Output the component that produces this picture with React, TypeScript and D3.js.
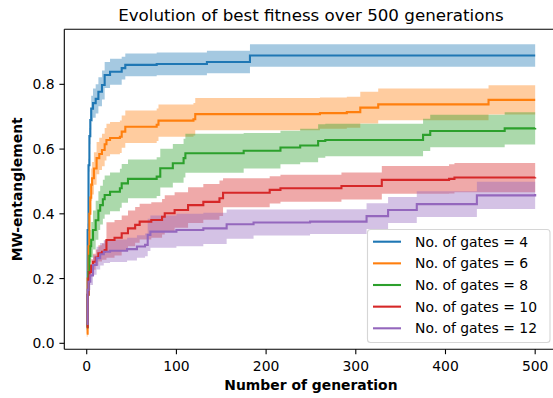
import React from 'react';
import * as d3 from 'd3';

// best fitness (mean and std over runs) at the generations where it steps
const gens4 = [0, 1, 2, 3, 4, 5, 7, 10, 13, 17, 20, 26, 39, 43, 78, 134, 182, 500];
const mean4 = [0.06, 0.35, 0.55, 0.64, 0.69, 0.725, 0.742, 0.755, 0.777, 0.798, 0.829, 0.839, 0.85, 0.86, 0.863, 0.869, 0.889, 0.889];
const std4 = [0.01, 0.02, 0.02, 0.025, 0.03, 0.04, 0.045, 0.045, 0.045, 0.045, 0.04, 0.04, 0.035, 0.035, 0.035, 0.035, 0.035, 0.035];

const gens6 = [0, 1, 2, 3, 4, 5, 6, 8, 11, 14, 17, 20, 22, 26, 37, 39, 43, 78, 80, 119, 121, 260, 290, 305, 325, 448, 500];
const mean6 = [0.03, 0.2, 0.3, 0.4, 0.45, 0.49, 0.51, 0.54, 0.572, 0.585, 0.597, 0.615, 0.628, 0.634, 0.638, 0.654, 0.669, 0.675, 0.688, 0.692, 0.708, 0.711, 0.714, 0.728, 0.738, 0.752, 0.752];
const std6 = [0.01, 0.02, 0.03, 0.04, 0.045, 0.05, 0.05, 0.05, 0.05, 0.05, 0.05, 0.05, 0.05, 0.05, 0.05, 0.05, 0.05, 0.05, 0.05, 0.05, 0.05, 0.048, 0.048, 0.049, 0.049, 0.045, 0.045];

const gens8 = [0, 1, 2, 3, 4, 5, 7, 10, 13, 15, 18, 20, 26, 37, 39, 46, 78, 82, 96, 108, 110, 175, 216, 238, 258, 266, 375, 383, 466, 500];
const mean8 = [0.05, 0.15, 0.22, 0.27, 0.3, 0.32, 0.35, 0.38, 0.41, 0.427, 0.445, 0.458, 0.468, 0.479, 0.494, 0.508, 0.515, 0.541, 0.556, 0.572, 0.587, 0.595, 0.605, 0.611, 0.625, 0.628, 0.644, 0.656, 0.664, 0.665];
const std8 = [0.01, 0.02, 0.03, 0.04, 0.05, 0.055, 0.06, 0.06, 0.06, 0.06, 0.06, 0.06, 0.06, 0.06, 0.06, 0.06, 0.06, 0.06, 0.06, 0.06, 0.06, 0.055, 0.052, 0.052, 0.052, 0.05, 0.05, 0.05, 0.05, 0.05];

const gens10 = [0, 1, 2, 3, 5, 7, 10, 13, 17, 20, 22, 31, 39, 46, 54, 59, 72, 84, 87, 98, 113, 130, 148, 152, 204, 216, 284, 329, 404, 410, 500];
const mean10 = [0.05, 0.15, 0.2, 0.22, 0.24, 0.252, 0.265, 0.278, 0.283, 0.288, 0.319, 0.326, 0.34, 0.355, 0.366, 0.376, 0.381, 0.391, 0.402, 0.412, 0.427, 0.437, 0.448, 0.465, 0.474, 0.479, 0.486, 0.505, 0.508, 0.512, 0.513];
const std10 = [0.01, 0.02, 0.02, 0.02, 0.02, 0.025, 0.025, 0.025, 0.025, 0.03, 0.055, 0.055, 0.055, 0.055, 0.055, 0.055, 0.055, 0.055, 0.055, 0.055, 0.055, 0.055, 0.055, 0.045, 0.042, 0.042, 0.042, 0.043, 0.045, 0.045, 0.045];

const gens12 = [0, 1, 2, 4, 7, 11, 15, 19, 26, 45, 56, 65, 68, 71, 100, 130, 156, 186, 249, 312, 336, 368, 435, 500];
const mean12 = [0.06, 0.165, 0.19, 0.21, 0.242, 0.263, 0.275, 0.283, 0.286, 0.291, 0.299, 0.304, 0.335, 0.345, 0.35, 0.355, 0.368, 0.373, 0.376, 0.393, 0.412, 0.43, 0.457, 0.461];
const std12 = [0.01, 0.02, 0.025, 0.03, 0.03, 0.035, 0.035, 0.035, 0.035, 0.035, 0.035, 0.035, 0.05, 0.05, 0.05, 0.048, 0.045, 0.04, 0.038, 0.04, 0.04, 0.04, 0.042, 0.042];

const labels = ['No. of gates = 4', 'No. of gates = 6', 'No. of gates = 8', 'No. of gates = 10', 'No. of gates = 12'];
const colors = ['#1f77b4', '#ff7f0e', '#2ca02c', '#d62728', '#9467bd'];
const xTicks = [0, 100, 200, 300, 400, 500];
const yTicks = [0, 0.2, 0.4, 0.6, 0.8];

const W = 553;
const H = 398;
const FONT = '"DejaVu Sans", sans-serif';

export default function App() {
  const x = d3.scaleLinear().domain([-25, 525]).range([64.3, 557.6]);
  const y = d3.scaleLinear().domain([-0.0185, 0.97]).range([349.3, 29.3]);
  const [x0, x1] = x.range();
  const [yb, yt] = y.range();

  const raw = [
    [gens4, mean4, std4],
    [gens6, mean6, std6],
    [gens8, mean8, std8],
    [gens10, mean10, std10],
    [gens12, mean12, std12],
  ];
  const series = raw.map(([g, m, s], i) => ({
    key: labels[i],
    color: colors[i],
    pts: g.map((gen, j) => ({ gen, mean: m[j], std: s[j] })),
  }));

  const line = d3.line<any>()
    .x(d => x(d.gen))
    .y(d => y(d.mean))
    .curve(d3.curveStepAfter);
  const band = d3.area<any>()
    .x(d => x(d.gen))
    .y0(d => y(d.mean - d.std))
    .y1(d => y(d.mean + d.std))
    .curve(d3.curveStepAfter);

  const fmt = d3.format('.1f');
  const cx = (x0 + x1) / 2;
  const lgX = 367.5;
  const lgY = 229.5;

  return (
    <div style={{ position: 'absolute', left: 0, top: 0 }}>
      <svg width={W} height={H} style={{ display: 'block', background: '#fff' }} fontFamily={FONT}>
        <defs>
          <clipPath id="plot">
            <rect x={x0} y={yt} width={x1 - x0} height={yb - yt} />
          </clipPath>
        </defs>
        {/* bands under all lines, like matplotlib zorder */}
        <g clipPath="url(#plot)">
          {series.map(s => (
            <path key={'b' + s.key} d={band(s.pts) || ''} fill={s.color} fillOpacity={0.4} stroke="none" />
          ))}
          {series.map(s => (
            <path key={'l' + s.key} d={line(s.pts) || ''} fill="none" stroke={s.color} strokeWidth={2.1} />
          ))}
        </g>

        {/* spines */}
        <line x1={x0} x2={x0} y1={yt} y2={yb} stroke="#000" strokeWidth={1.1} />
        <line x1={x0} x2={x1} y1={yb} y2={yb} stroke="#000" strokeWidth={1.1} />
        <line x1={x0} x2={x1} y1={yt} y2={yt} stroke="#000" strokeWidth={1.1} />
        <line x1={x1} x2={x1} y1={yt} y2={yb} stroke="#000" strokeWidth={1.1} />

        {/* x axis */}
        {xTicks.map(t => (
          <g key={'x' + t}>
            <line x1={x(t)} x2={x(t)} y1={yb} y2={yb + 4.9} stroke="#000" strokeWidth={1.1} />
            <text x={x(t)} y={371} fontSize={13.9} textAnchor="middle" fill="#000">{t}</text>
          </g>
        ))}
        <text x={cx} y={389.5} fontSize={13.9} fontWeight="bold" textAnchor="middle">Number of generation</text>

        {/* y axis */}
        {yTicks.map(t => (
          <g key={'y' + t}>
            <line x1={x0 - 4.9} x2={x0} y1={y(t)} y2={y(t)} stroke="#000" strokeWidth={1.1} />
            <text x={x0 - 9.8} y={y(t)} dy="0.36em" fontSize={13.9} textAnchor="end" fill="#000">{fmt(t)}</text>
          </g>
        ))}
        <text transform={`translate(22,${(yt + yb) / 2}) rotate(-90)`} fontSize={13.9} fontWeight="bold" textAnchor="middle">MW-entanglement</text>

        <text x={cx} y={20.5} fontSize={16.7} textAnchor="middle">Evolution of best fitness over 500 generations</text>

        {/* legend */}
        <rect x={lgX} y={lgY} width={182.5} height={113} rx={3} fill="#fff" fillOpacity={0.8} stroke="#ccc" strokeOpacity={0.8} strokeWidth={1.1} />
        {series.map((s, i) => {
          const ry = 241.7 + i * 21.65;
          return (
            <g key={'lg' + s.key}>
              <line x1={373} x2={401} y1={ry} y2={ry} stroke={s.color} strokeWidth={2.1} />
              <text x={415} y={ry} dy="0.36em" fontSize={13.9}>{s.key}</text>
            </g>
          );
        })}
      </svg>
    </div>
  );
}
